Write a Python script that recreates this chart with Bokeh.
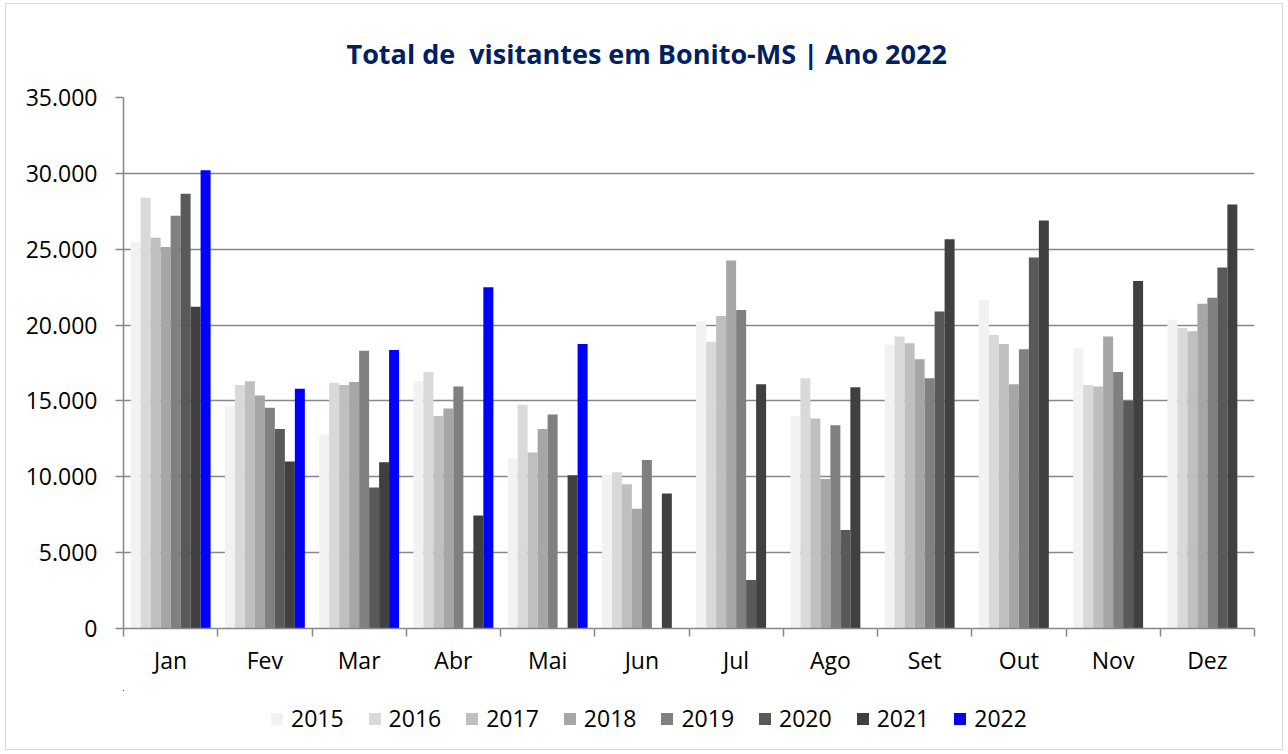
from bokeh.plotting import figure
from bokeh.layouts import column
from bokeh.models import (ColumnDataSource, Range1d, FixedTicker, Legend, LegendItem, Title)
from bokeh.transform import dodge
from bokeh.embed import file_html
from bokeh.resources import INLINE

months = ["Jan", "Fev", "Mar", "Abr", "Mai", "Jun", "Jul", "Ago", "Set", "Out", "Nov", "Dez"]
years = ["2015", "2016", "2017", "2018", "2019", "2020", "2021", "2022"]
nan = float("nan")

v2015 = [25500, 14650, 12750, 16300, 11200, 10100, 20250, 14000, 18700, 21650, 18450, 20350]
v2016 = [28400, 16050, 16200, 16900, 14750, 10300, 18900, 16500, 19250, 19350, 16050, 19800]
v2017 = [25750, 16300, 16050, 14000, 11600, 9500, 20600, 13850, 18800, 18750, 15950, 19600]
v2018 = [25150, 15350, 16250, 14500, 13150, 7900, 24250, 9850, 17750, 16100, 19250, 21400]
v2019 = [27200, 14550, 18300, 15950, 14100, 11100, 21000, 13400, 16500, 18400, 16900, 21800]
v2020 = [28650, 13150, 9300, 0, 0, 0, 3200, 6500, 20900, 24450, 15000, 23800]
v2021 = [21200, 11000, 10950, 7450, 10100, 8900, 16100, 15900, 25650, 26900, 22900, 27950]
v2022 = [30200, 15800, 18350, 22500, 18750, nan, nan, nan, nan, nan, nan, nan]

series = [v2015, v2016, v2017, v2018, v2019, v2020, v2021, v2022]
colors = ["#f2f2f2", "#d9d9d9", "#bfbfbf", "#a6a6a6", "#808080", "#595959", "#404040", "#0000ff"]

y_ticks = [0, 5000, 10000, 15000, 20000, 25000, 30000, 35000]

data = {"x": list(range(len(months)))}
for yr, vals in zip(years, series):
    data["y" + yr] = vals
source = ColumnDataSource(data)

FONT = "Open Sans"
GRAY = "#878787"

p = figure(width=1276, height=686, output_backend="svg", toolbar_location=None,
           x_range=Range1d(-0.5, len(months) - 0.5), y_range=Range1d(0, 35000),
           min_border_left=117, min_border_right=28, min_border_top=93, min_border_bottom=62,
           background_fill_color="white", border_fill_color="white")
p.outline_line_color = None

# legend-only strip below the chart (same bars, kept outside its visible ranges)
lg = figure(width=1276, height=59, output_backend="svg", toolbar_location=None,
            x_range=Range1d(1000, 1001), y_range=Range1d(-200000, -100000),
            x_axis_type=None, y_axis_type=None,
            min_border_left=0, min_border_right=0, min_border_top=0, min_border_bottom=0,
            background_fill_color="white", border_fill_color="white")
lg.outline_line_color = None
for g in lg.grid:
    g.visible = False

bw = 0.106
items = []
for k, (yr, col) in enumerate(zip(years, colors)):
    off = (k - (len(years) - 1) / 2) * bw
    p.vbar(x=dodge("x", off, range=p.x_range), top="y" + yr, width=bw, source=source,
           fill_color=col, line_color=None)
    r = lg.vbar(x=dodge("x", off, range=p.x_range), top="y" + yr, width=bw, source=source,
                fill_color=col, line_color=None)
    items.append(LegendItem(label=yr, renderers=[r]))

# axes
p.xaxis.ticker = FixedTicker(ticks=list(range(len(months))),
                             minor_ticks=[i - 0.5 for i in range(len(months) + 1)])
p.xaxis.major_label_overrides = {i: m for i, m in enumerate(months)}
p.xaxis.major_tick_line_color = None
p.xaxis.minor_tick_line_color = GRAY
p.xaxis.minor_tick_out = 8
p.xaxis.minor_tick_in = 0
p.xaxis.minor_tick_line_width = 1.5
p.xaxis.axis_line_color = GRAY
p.xaxis.axis_line_width = 1.5
p.xaxis.major_label_standoff = 7
p.xaxis.major_label_text_font = FONT
p.xaxis.major_label_text_font_size = "23px"
p.xaxis.major_label_text_color = "#000000"

p.yaxis.ticker = FixedTicker(ticks=y_ticks, minor_ticks=[])
p.yaxis.major_label_overrides = {t: f"{t:,}".replace(",", ".") for t in y_ticks}
p.yaxis.major_tick_out = 8
p.yaxis.major_tick_in = 0
p.yaxis.major_tick_line_color = GRAY
p.yaxis.major_tick_line_width = 1.5
p.yaxis.axis_line_color = GRAY
p.yaxis.axis_line_width = 1.5
p.yaxis.major_label_standoff = 18
p.yaxis.major_label_text_font = FONT
p.yaxis.major_label_text_font_size = "23px"
p.yaxis.major_label_text_color = "#000000"

p.xgrid.grid_line_color = None
p.ygrid.grid_line_color = GRAY
p.ygrid.grid_line_width = 1.5

p.title = Title(text="Total de \u00a0visitantes em Bonito-MS | Ano 2022", align="left", offset=223,
                text_font=FONT, text_font_size="27px", text_font_style="bold",
                text_color="#002060", standoff=52)

legend = Legend(items=items, orientation="horizontal", location=(146, 15),
                label_text_font=FONT, label_text_font_size="23px", label_text_color="#000000",
                glyph_width=15, glyph_height=15, label_standoff=7, spacing=23,
                border_line_color=None, background_fill_alpha=0, margin=0, padding=0)
lg.add_layout(legend, "center")

layout = column(p, lg, spacing=0,
                styles={"border": "1px solid #d9d9d9", "margin": "3px 0px 0px 5px"})

open("out.html", "w").write(file_html(layout, INLINE))
